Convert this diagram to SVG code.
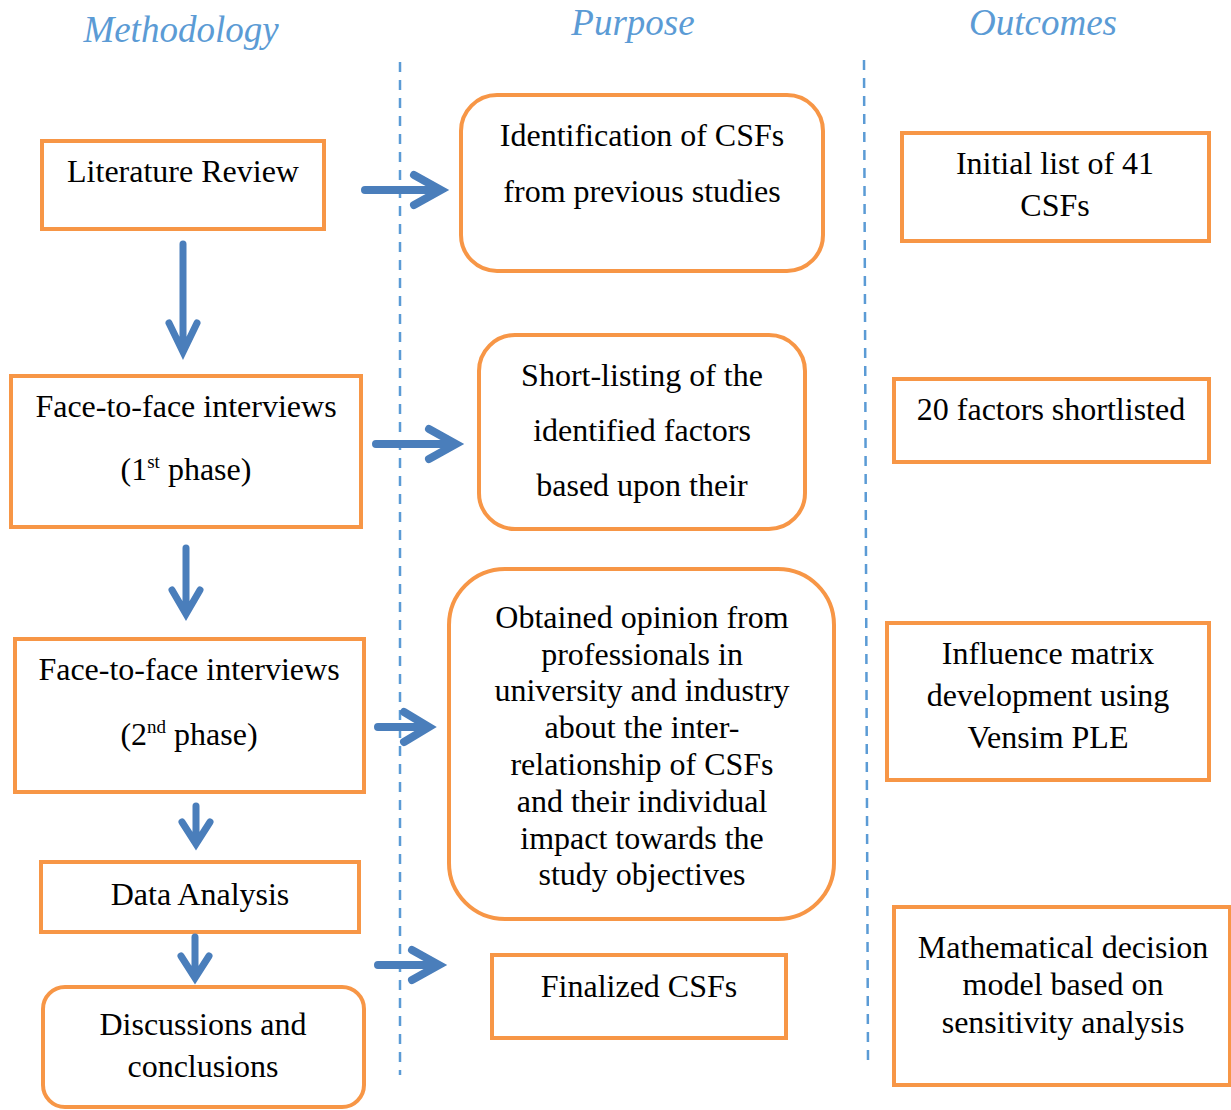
<svg xmlns="http://www.w3.org/2000/svg" width="1231" height="1110" viewBox="0 0 1231 1110">
  <style>
    .box { fill: #ffffff; stroke: #F79646; stroke-width: 4; }
    .t { font-family: "Liberation Serif", "Times New Roman", serif; font-size: 32px; fill: #000000; text-anchor: middle; }
    .sup { font-size: 19px; }
    .hdr { font-family: "Liberation Serif", "Times New Roman", serif; font-size: 37px; font-style: italic; fill: #5B9BD5; text-anchor: middle; }
    .sep { stroke: #5B9BD5; stroke-width: 2.5; stroke-dasharray: 10 8; fill: none; }
    .arr { stroke: #4A7EBB; stroke-width: 8; fill: none; stroke-linecap: round; stroke-linejoin: miter; }
    .arrv { stroke: #4A7EBB; stroke-width: 7; fill: none; stroke-linecap: round; stroke-linejoin: miter; }
  </style>

  <rect width="1231" height="1110" fill="#ffffff"/>

  <!-- column headings -->
  <g id="headings">
    <text class="hdr" x="181" y="42">Methodology</text>
    <text class="hdr" x="633" y="35">Purpose</text>
    <text class="hdr" x="1043" y="35">Outcomes</text>
  </g>

  <!-- column separators -->
  <g id="separators">
    <line class="sep" x1="400" y1="62" x2="400" y2="1075"/>
    <line class="sep" x1="864" y1="60" x2="868" y2="1060"/>
  </g>

  <!-- methodology column -->
  <g id="literature-review">
    <rect class="box" x="42" y="141" width="282" height="88"/>
    <text class="t" x="183" y="182">Literature Review</text>
  </g>
  <g id="interviews-1">
    <rect class="box" x="11" y="376" width="350" height="151"/>
    <text class="t" x="186" y="417">Face-to-face interviews</text>
    <text class="t" x="186" y="480">(1<tspan class="sup" dy="-12">st</tspan><tspan dy="12"> phase)</tspan></text>
  </g>
  <g id="interviews-2">
    <rect class="box" x="15" y="639" width="349" height="153"/>
    <text class="t" x="189" y="680">Face-to-face interviews</text>
    <text class="t" x="189" y="745">(2<tspan class="sup" dy="-12">nd</tspan><tspan dy="12"> phase)</tspan></text>
  </g>
  <g id="data-analysis">
    <rect class="box" x="41" y="862" width="318" height="70"/>
    <text class="t" x="200" y="905">Data Analysis</text>
  </g>
  <g id="discussions">
    <rect class="box" x="43" y="987" width="321" height="120" rx="22" ry="22"/>
    <text class="t" x="203" y="1035">Discussions and</text>
    <text class="t" x="203" y="1077">conclusions</text>
  </g>

  <!-- purpose column -->
  <g id="identification">
    <rect class="box" x="461" y="95" width="362" height="176" rx="36" ry="36"/>
    <text class="t" x="642" y="146">Identification of CSFs</text>
    <text class="t" x="642" y="202">from previous studies</text>
  </g>
  <g id="short-listing">
    <rect class="box" x="479" y="335" width="326" height="194" rx="36" ry="36"/>
    <text class="t" x="642" y="386">Short-listing of the</text>
    <text class="t" x="642" y="441">identified factors</text>
    <text class="t" x="642" y="496">based upon their</text>
  </g>
  <g id="opinion">
    <rect class="box" x="449" y="569" width="385" height="350" rx="56" ry="56"/>
    <text class="t" x="642" y="628">Obtained opinion from</text>
    <text class="t" x="642" y="665">professionals in</text>
    <text class="t" x="642" y="701">university and industry</text>
    <text class="t" x="642" y="738">about the inter-</text>
    <text class="t" x="642" y="775">relationship of CSFs</text>
    <text class="t" x="642" y="812">and their individual</text>
    <text class="t" x="642" y="849">impact towards the</text>
    <text class="t" x="642" y="885">study objectives</text>
  </g>
  <g id="finalized">
    <rect class="box" x="492" y="955" width="294" height="83"/>
    <text class="t" x="639" y="997">Finalized CSFs</text>
  </g>

  <!-- outcomes column -->
  <g id="initial-list">
    <rect class="box" x="902" y="133" width="307" height="108"/>
    <text class="t" x="1055" y="174">Initial list of 41</text>
    <text class="t" x="1055" y="216">CSFs</text>
  </g>
  <g id="shortlisted">
    <rect class="box" x="894" y="379" width="315" height="83"/>
    <text class="t" x="1051" y="420">20 factors shortlisted</text>
  </g>
  <g id="influence-matrix">
    <rect class="box" x="887" y="623" width="322" height="157"/>
    <text class="t" x="1048" y="664">Influence matrix</text>
    <text class="t" x="1048" y="706">development using</text>
    <text class="t" x="1048" y="748">Vensim PLE</text>
  </g>
  <g id="decision-model">
    <rect class="box" x="894" y="907" width="336" height="178"/>
    <text class="t" x="1063" y="958">Mathematical decision</text>
    <text class="t" x="1063" y="995">model based on</text>
    <text class="t" x="1063" y="1033">sensitivity analysis</text>
  </g>

  <!-- connectors -->
  <g id="connectors">
    <!-- horizontal arrows -->
    <path class="arr" d="M365,190 H438 M414,175 L441,190 L414,205"/>
    <path class="arr" d="M376,444 H453 M429,429 L456,444 L429,459"/>
    <path class="arr" d="M378,727 H426 M404,712 L429,727 L404,742"/>
    <path class="arr" d="M378,965 H436 M412,950 L439,965 L412,980"/>
    <!-- vertical arrows -->
    <path class="arrv" d="M183,244 V349 M169,323 L183,352 L197,323"/>
    <path class="arrv" d="M186,548 V611 M172,590 L186,614 L200,590"/>
    <path class="arrv" d="M196,806 V841 M182,822 L196,844 L210,822"/>
    <path class="arrv" d="M195,937 V976 M181,956 L195,978 L209,956"/>
  </g>
</svg>
